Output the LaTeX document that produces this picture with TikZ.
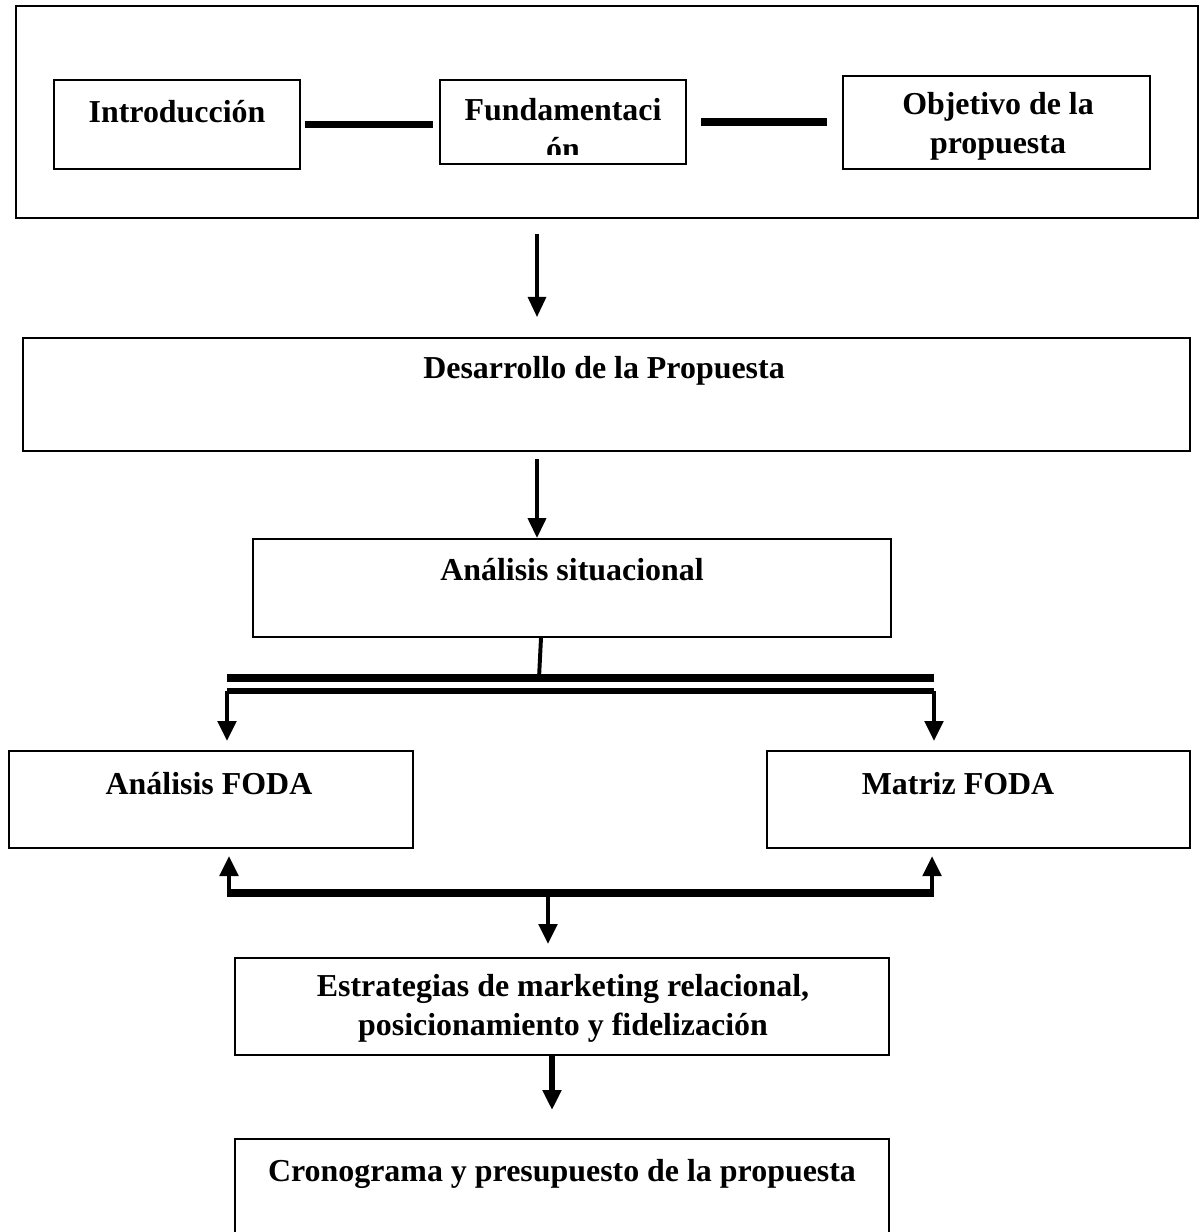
\documentclass[tikz,border=0pt]{standalone}
\usepackage{fontspec}
\setmainfont{Liberation Serif}
\usetikzlibrary{arrows.meta}
\tikzset{>={Triangle[length=0.5cm,width=0.45cm]}}
\tikzset{
	box/.style={draw,line width=1.4pt,inner sep=0pt},
	lbl/.style={font=\bfseries\fontsize{22.7}{27.5}\selectfont,align=center,inner sep=0pt,anchor=base},
	bar/.style={line width=5pt},
	arr/.style={->,line width=3pt},
}

\begin{document}
\begin{tikzpicture}[x=0.025cm,y=-0.025cm]
		\clip (0,0) rectangle (1199,1232);

		% boxes
		\node[box,minimum width=29.55cm,minimum height=5.3cm] (block) at (607,112) {};
		\node[box,minimum width=6.15cm,minimum height=2.225cm] (intro) at (177,124.5) {};
		\node[box,minimum width=6.15cm,minimum height=2.1cm] (fund) at (563,122) {};
		\node[box,minimum width=7.675cm,minimum height=2.325cm] (obj) at (996.5,122.5) {};
		\node[box,minimum width=29.175cm,minimum height=2.825cm] (desarrollo) at (606.5,394.5) {};
		\node[box,minimum width=15.95cm,minimum height=2.45cm] (situacional) at (572,588) {};
		\node[box,minimum width=10.1cm,minimum height=2.425cm] (afoda) at (211,799.5) {};
		\node[box,minimum width=10.575cm,minimum height=2.425cm] (mfoda) at (978.5,799.5) {};
		\node[box,minimum width=16.35cm,minimum height=2.425cm] (estrat) at (562,1006.5) {};
		\node[box,minimum width=16.35cm,minimum height=2.75cm] (crono) at (562,1194) {};

		% texts (base = last line)
		\node[lbl] (intro-t) at (177,122) {Introducción};
		\begin{scope}
			\clip (fund.north west) rectangle ([yshift=0.25cm]fund.south east);
			\node[lbl] (fund-t) at (563,159) {Fundamentaci\\ón};
		\end{scope}
		\node[lbl] (obj-t) at (998,153) {Objetivo de la\\propuesta};
		\node[lbl] (desarrollo-t) at (604,378) {Desarrollo de la Propuesta};
		\node[lbl] (situacional-t) at (572,580) {Análisis situacional};
		\node[lbl] (afoda-t) at (209,794) {Análisis FODA};
		\node[lbl] (mfoda-t) at (958,794) {Matriz FODA};
		\node[lbl] (estrat-t) at (563,1035) {Estrategias de marketing relacional,\\posicionamiento y fidelización};
		\node[lbl] (crono-t) at (562,1181) {Cronograma y presupuesto de la propuesta};

		% connectors
		\draw[bar] ([xshift=0.1cm]intro.east) -- ([xshift=-0.15cm]fund.west |- intro.east);
		\draw[bar] ([xshift=0.35cm]fund.east) -- ([xshift=-0.375cm]obj.west |- fund.east);

		\coordinate (col) at (537,0);
		\draw[arr,line width=2.2pt,shorten <=0.375cm,shorten >=0.5cm] (block.south -| col) -- (desarrollo.north -| col);
		\draw[arr,line width=2.8pt,shorten <=0.175cm] (desarrollo.south -| col) -- (situacional.north -| col);

		\coordinate (bus-a-l) at (227,678);
		\coordinate (bus-a-r) at (934,678);
		\coordinate (bus-b-l) at (227,691);
		\coordinate (bus-b-r) at (934,691);
		\coordinate (bus-c-l) at (229,893);
		\coordinate (bus-c-r) at (932,893);
		\coordinate (bus-c-m) at (548,893);

		\draw[line width=2.8pt] (situacional.south -| 541,0) -- (bus-a-l -| 539,0);
		\draw[bar] (bus-a-l) -- (bus-a-r);
		\draw[bar,line width=4.4pt] (bus-b-l) -- (bus-b-r);
		\draw[arr,line width=3.4pt,shorten >=0.225cm] (bus-b-l) -- (afoda.north -| bus-b-l);
		\draw[arr,line width=3.4pt,shorten >=0.225cm] (bus-b-r) -- (mfoda.north -| bus-b-r);

		\draw[bar] ([xshift=-0.05cm]bus-c-l) -- ([xshift=0.05cm]bus-c-r);
		\draw[arr,line width=3.4pt,shorten >=0.175cm] (bus-c-l) -- (afoda.south -| bus-c-l);
		\draw[arr,line width=3.4pt,shorten >=0.175cm] (bus-c-r) -- (mfoda.south -| bus-c-r);
		\draw[arr,line width=3.4pt,shorten >=0.325cm] (bus-c-m) -- (estrat.north -| bus-c-m);

		\draw[arr,line width=4pt,shorten >=0.7cm] ([xshift=-0.25cm]estrat.south) -- ([xshift=-0.25cm]crono.north);
	\end{tikzpicture}
\end{document}
